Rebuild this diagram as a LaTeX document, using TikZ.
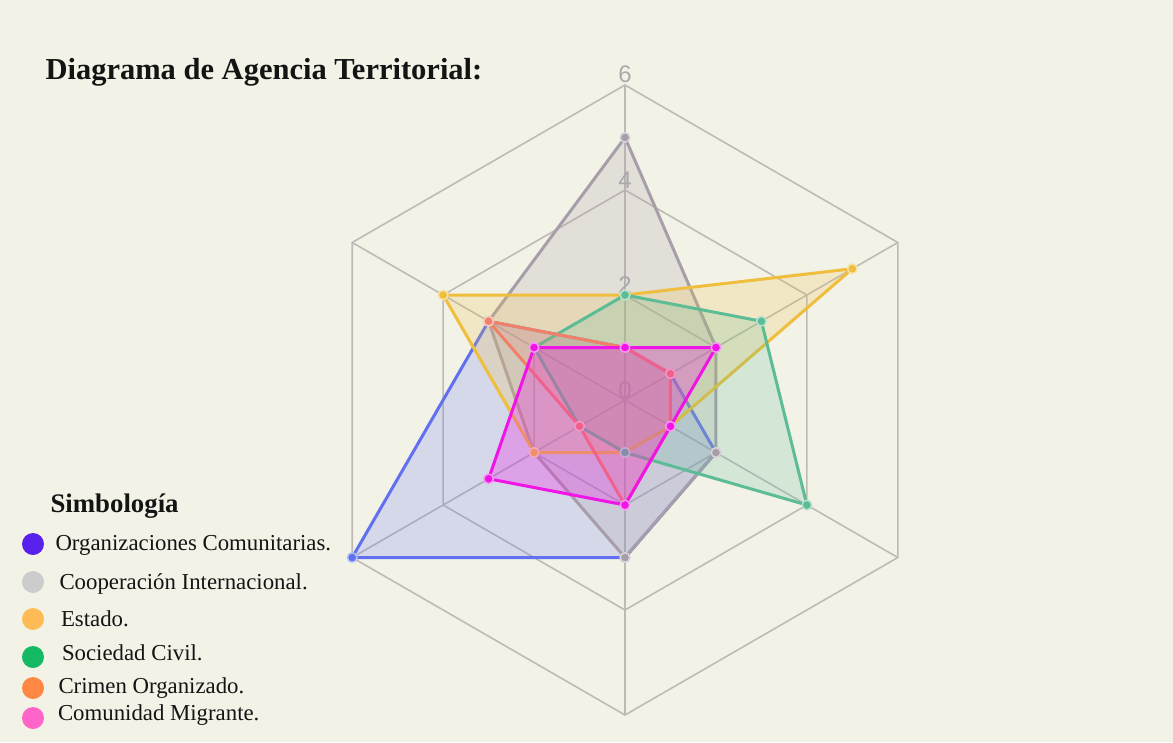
\documentclass[tikz,border=0pt]{standalone}
\usepackage{fontspec}
\setmainfont{Liberation Serif}
\newfontfamily\ticksans{Liberation Sans}
\definecolor{bg}{RGB}{243,242,231}
\definecolor{gridc}{RGB}{190,187,182}
\definecolor{tickc}{RGB}{172,170,170}
\definecolor{sBlue}{RGB}{96,112,240}
\definecolor{sGray}{RGB}{168,158,170}
\definecolor{sYellow}{RGB}{238,190,60}
\definecolor{sTeal}{RGB}{92,188,150}
\definecolor{sOrange}{RGB}{240,128,104}
\definecolor{sMag}{RGB}{240,20,230}
\definecolor{lBlue}{RGB}{88,34,236}
\definecolor{lGray}{RGB}{204,204,204}
\definecolor{lYellow}{RGB}{255,187,85}
\definecolor{lGreen}{RGB}{20,185,100}
\definecolor{lOrange}{RGB}{255,136,68}
\definecolor{lPink}{RGB}{255,100,200}
\definecolor{txt}{RGB}{20,20,20}
\tikzset{
  gridline/.style={draw=gridc, line width=1.6pt},
  serline/.style={line width=3pt, line join=round},
  dot/.style={circle, inner sep=0pt, minimum size=9.5pt, line width=1.5pt},
  legdot/.style={circle, inner sep=0pt, minimum size=22pt},
  legtext/.style={anchor=base west, text=txt, font=\fontsize{22.8}{25}\selectfont},
  ticklab/.style={text=tickc, font=\ticksans\fontsize{24}{26}\selectfont, inner sep=0pt}
}
\newcommand\radarseries[4]{% name, colour, fill opacity, values
  \foreach \v [count=\k from 0] in {#4} {\coordinate (#1\k) at ({-90+60*\k}:{52.5*\v});}
  \filldraw[serline, draw=#2, fill=#2, fill opacity=#3] (#10) -- (#11) -- (#12) -- (#13) -- (#14) -- (#15) -- cycle;
}
\newcommand\radardots[2]{%
  \foreach \k in {0,...,5} {\node[dot, fill=#2, draw=white!55!#2] (#1d\k) at (#1\k) {};}
}
\begin{document}
\begin{tikzpicture}[x=1pt,y=-1pt]
\fill[bg] (0,0) rectangle (1173,742);
\useasboundingbox (0,0) rectangle (1173,742);
\node[anchor=base west, text=txt, font=\bfseries\fontsize{30.5}{33}\selectfont] (title) at (42,79) {Diagrama de Agencia Territorial:};
\begin{scope}[shift={(625,400)}]
  \coordinate (c) at (0,0);
  % grid
  \foreach \r in {105,210,315} {
    \draw[gridline] (-90:\r) -- (-30:\r) -- (30:\r) -- (90:\r) -- (150:\r) -- (210:\r) -- cycle;
  }
  \foreach \a [count=\i] in {-90,-30,30,90,150,210} {
    \coordinate (ax\i) at (\a:315);
    \draw[gridline] (c) -- (ax\i);
  }
  \node[ticklab] (t0) at (0,-10) {0};
  \node[ticklab] (t2) at (0,-115) {2};
  \node[ticklab] (t4) at (0,-220) {4};
  \node[ticklab] (t6) at (0,-326) {6};
  % data
  \radarseries{blue}{sBlue}{0.2}{1,1,2,3,6,3}
  \radarseries{gray}{sGray}{0.22}{5,2,2,3,2,3}
  \radarseries{yel}{sYellow}{0.2}{2,5,1,1,2,4}
  \radarseries{teal}{sTeal}{0.2}{2,3,4,1,1,2}
  \radarseries{ora}{sOrange}{0.2}{1,1,1,2,1,3}
  \radardots{blue}{sBlue}
  \radardots{gray}{sGray}
  \radardots{yel}{sYellow}
  \radardots{teal}{sTeal}
  \radardots{ora}{sOrange}
  \radarseries{mag}{sMag}{0.28}{1,2,1,2,3,2}
  \radardots{mag}{sMag}
\end{scope}
% legend
\node[anchor=base west, text=txt, font=\bfseries\fontsize{26.8}{29}\selectfont] (simb) at (47,512) {Simbología};
\node[legdot, fill=lBlue] (ld1) at (33,544) {};
\node[legtext] (lt1) at (52,550.5) {Organizaciones Comunitarias.};
\node[legdot, fill=lGray] (ld2) at (33,582) {};
\node[legtext] (lt2) at (56,589.5) {Cooperación Internacional.};
\node[legdot, fill=lYellow] (ld3) at (33,619) {};
\node[legtext] (lt3) at (57.5,626.5) {Estado.};
\node[legdot, fill=lGreen] (ld4) at (33,657) {};
\node[legtext] (lt4) at (58.5,660) {Sociedad Civil.};
\node[legdot, fill=lOrange] (ld5) at (33,688) {};
\node[legtext] (lt5) at (55,693) {Crimen Organizado.};
\node[legdot, fill=lPink] (ld6) at (33,718) {};
\node[legtext] (lt6) at (54.5,720.5) {Comunidad Migrante.};
\end{tikzpicture}
\end{document}
